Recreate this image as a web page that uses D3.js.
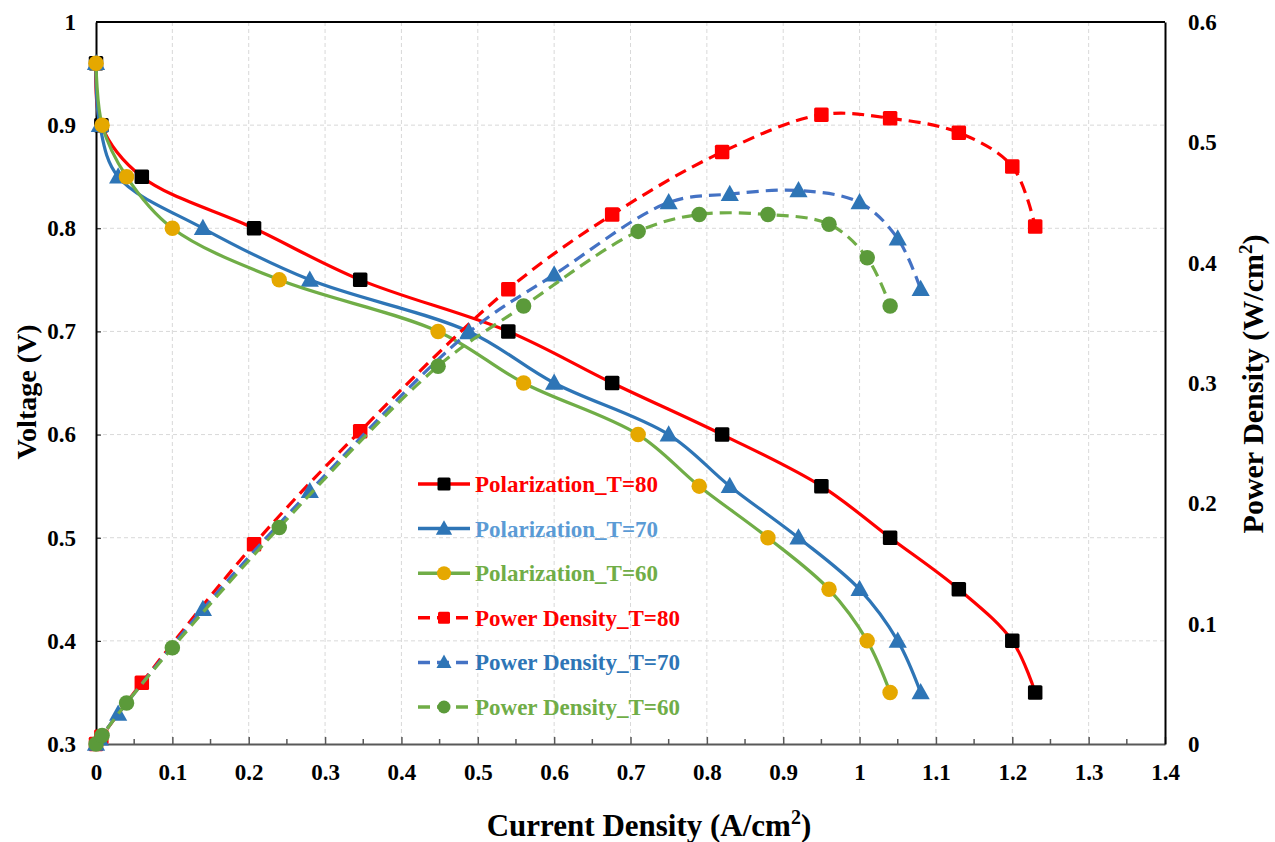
<!DOCTYPE html>
<html>
<head>
<meta charset="utf-8">
<script src="https://cdn.jsdelivr.net/npm/d3@7"></script>
<style>
  html, body { margin: 0; padding: 0; background: #fff; }
  svg { display: block; }
  svg text { font-family: "Liberation Serif", "Times New Roman", Tinos, "DejaVu Serif", serif !important; font-weight: bold; }
</style>
</head>
<body>
<svg id="chart" width="1275" height="842"></svg>
<script>
// Fuel cell polarization and power density curves at three temperatures.

// Current density (A/cm2) for each temperature
var current80 = [0, 0.007, 0.06, 0.207, 0.346, 0.54, 0.676, 0.82, 0.95, 1.04, 1.13, 1.2, 1.23];
var current70 = [0, 0.005, 0.029, 0.14, 0.28, 0.488, 0.6, 0.75, 0.83, 0.92, 1.0, 1.05, 1.08];
var current60 = [0, 0.008, 0.04, 0.1, 0.24, 0.448, 0.56, 0.71, 0.79, 0.88, 0.96, 1.01, 1.04];

// Cell voltage (V), same at every temperature
var voltage = [0.96, 0.9, 0.85, 0.8, 0.75, 0.7, 0.65, 0.6, 0.55, 0.5, 0.45, 0.4, 0.35];

// Power density (W/cm2)
var power80 = [0, 0.006, 0.051, 0.166, 0.26, 0.378, 0.44, 0.492, 0.523, 0.52, 0.508, 0.48, 0.43];
var power70 = [0, 0.0045, 0.025, 0.112, 0.21, 0.342, 0.39, 0.45, 0.457, 0.46, 0.45, 0.42, 0.378];
var power60 = [0, 0.007, 0.034, 0.08, 0.18, 0.314, 0.364, 0.426, 0.44, 0.44, 0.432, 0.404, 0.364];

var xTicks = [0, 0.1, 0.2, 0.3, 0.4, 0.5, 0.6, 0.7, 0.8, 0.9, 1, 1.1, 1.2, 1.3, 1.4];
var vTicks = [0.3, 0.4, 0.5, 0.6, 0.7, 0.8, 0.9, 1];
var pTicks = [0, 0.1, 0.2, 0.3, 0.4, 0.5, 0.6];

var series = [
    { name: 'Polarization_T=80', xs: current80, ys: voltage, axis: 'v', line: '#FF0000', marker: '#000000', shape: 'square', dash: null, text: '#FF0000' },
    { name: 'Polarization_T=70', xs: current70, ys: voltage, axis: 'v', line: '#2E75B6', marker: '#2E75B6', shape: 'triangle', dash: null, text: '#5B9BD5' },
    { name: 'Polarization_T=60', xs: current60, ys: voltage, axis: 'v', line: '#70AD47', marker: '#E5A800', shape: 'circle', dash: null, text: '#70AD47' },
    { name: 'Power Density_T=80', xs: current80, ys: power80, axis: 'p', line: '#FF0000', marker: '#FF0000', shape: 'square', dash: '12 7', text: '#FF0000' },
    { name: 'Power Density_T=70', xs: current70, ys: power70, axis: 'p', line: '#4472C4', marker: '#2E75B6', shape: 'triangle', dash: '12 7', text: '#2E75B6' },
    { name: 'Power Density_T=60', xs: current60, ys: power60, axis: 'p', line: '#70AD47', marker: '#5B9A3A', shape: 'circle', dash: '12 7', text: '#70AD47' }
];

var svg = d3.select('#chart');
var L = 96, R = 1165, T = 22, B = 744;

var x = d3.scaleLinear().domain([0, 1.4]).range([L, R]);
var yV = d3.scaleLinear().domain([0.3, 1]).range([B, T]);
var yP = d3.scaleLinear().domain([0, 0.6]).range([B, T]);

function fmt(d) { return String(+d.toFixed(1)); }

// Grid
var grid = svg.append('g').attr('stroke', '#D9D9D9').attr('stroke-width', 1).attr('stroke-dasharray', '4 3');
xTicks.slice(1, -1).forEach(function (d) {
    grid.append('line').attr('x1', x(d)).attr('x2', x(d)).attr('y1', T).attr('y2', B);
});
vTicks.slice(1, -1).forEach(function (d) {
    grid.append('line').attr('x1', L).attr('x2', R).attr('y1', yV(d)).attr('y2', yV(d));
});

// Axes
var ax = svg.append('g').attr('transform', 'translate(0,' + B + ')')
    .call(d3.axisBottom(x).tickValues(xTicks).tickFormat(fmt).tickSizeInner(-7).tickSizeOuter(0).tickPadding(21));
ax.select('.domain').attr('stroke', '#595959').attr('stroke-width', 2);
ax.selectAll('.tick line').attr('stroke', '#595959').attr('stroke-width', 1.5);
ax.selectAll('.tick text').attr('dy', '0.66em');
// minor ticks
d3.range(1, 28, 2).forEach(function (k) {
    ax.append('line').attr('x1', x(k * 0.05)).attr('x2', x(k * 0.05)).attr('y1', 0).attr('y2', -5)
        .attr('stroke', '#595959').attr('stroke-width', 1.5);
});

var ay = svg.append('g').attr('transform', 'translate(' + L + ',0)')
    .call(d3.axisLeft(yV).tickValues(vTicks).tickFormat(fmt).tickSizeInner(-5).tickSizeOuter(0).tickPadding(20));
ay.select('.domain').attr('stroke', '#000').attr('stroke-width', 2);

var ap = svg.append('g').attr('transform', 'translate(' + R + ',0)')
    .call(d3.axisRight(yP).tickValues(pTicks).tickFormat(fmt).tickSize(0).tickPadding(23));
ap.select('.domain').attr('stroke', '#000').attr('stroke-width', 2);

svg.append('line').attr('x1', L).attr('x2', R).attr('y1', T).attr('y2', T)
    .attr('stroke', '#000').attr('stroke-width', 2);

svg.selectAll('.tick text')
    .attr('font-size', 23)
    .attr('fill', '#000');

// Axis titles
var tx = svg.append('text').attr('x', 649).attr('y', 836).attr('text-anchor', 'middle')
    .attr('font-size', 31).attr('fill', '#000');
tx.append('tspan').text('Current Density (A/cm');
tx.append('tspan').attr('font-size', 20).attr('dy', -12).text('2');
tx.append('tspan').attr('dy', 12).text(')');

svg.append('text').attr('transform', 'translate(36,392) rotate(-90)')
    .attr('text-anchor', 'middle').attr('font-size', 28).attr('fill', '#000').text('Voltage (V)');

var tp = svg.append('text').attr('transform', 'translate(1263,384) rotate(-90)')
    .attr('text-anchor', 'middle').attr('font-size', 30).attr('fill', '#000');
tp.append('tspan').text('Power Density (W/cm');
tp.append('tspan').attr('font-size', 19).attr('dy', -11).text('2');
tp.append('tspan').attr('dy', 11).text(')');

// Marker drawing
function marker(g, shape, cx, cy, size, fill) {
    if (shape === 'square') {
        g.append('rect').attr('x', cx - size / 2).attr('y', cy - size / 2)
            .attr('width', size).attr('height', size).attr('rx', 1.5).attr('fill', fill);
    } else if (shape === 'triangle') {
        var s = size * 1.12;
        g.append('path').attr('d', 'M' + cx + ',' + (cy - s * 0.58) + 'L' + (cx + s * 0.56) + ',' + (cy + s * 0.42) +
            'L' + (cx - s * 0.56) + ',' + (cy + s * 0.42) + 'Z').attr('fill', fill);
    } else {
        g.append('circle').attr('cx', cx).attr('cy', cy).attr('r', size / 2 + 0.5).attr('fill', fill);
    }
}

var plot = svg.append('g');
series.forEach(function (s) {
    var yS = s.axis === 'v' ? yV : yP;
    var pts = s.xs.map(function (d, i) { return [d, s.ys[i]]; });
    var line = d3.line().x(function (d) { return x(d[0]); }).y(function (d) { return yS(d[1]); })
        .curve(d3.curveCatmullRom.alpha(0.5));
    var g = plot.append('g');
    g.append('path').datum(pts).attr('d', line).attr('fill', 'none')
        .attr('stroke', s.line).attr('stroke-width', 3.2)
        .attr('stroke-dasharray', s.dash);
    pts.forEach(function (p) {
        marker(g, s.shape, x(p[0]), yS(p[1]), 14.5, s.marker);
    });
});

// Legend
var leg = svg.append('g');
series.forEach(function (s, i) {
    var ly = 484 + i * 44.6;
    leg.append('line').attr('x1', 418).attr('x2', 470).attr('y1', ly).attr('y2', ly)
        .attr('stroke', s.line).attr('stroke-width', 3.5).attr('stroke-dasharray', s.dash);
    marker(leg, s.shape, 444, ly, s.axis === 'v' ? 13 : 12, s.marker);
    leg.append('text').attr('x', 475).attr('y', ly + 8).attr('font-size', 23).attr('fill', s.text).text(s.name);
});
</script>
</body>
</html>
